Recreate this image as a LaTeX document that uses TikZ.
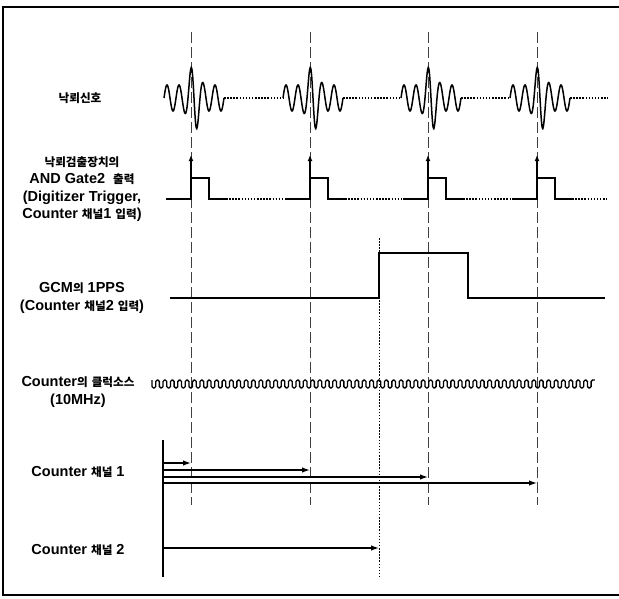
\documentclass[tikz,border=0pt]{standalone}
\usepackage{fontspec}
\setmainfont{Liberation Sans}
\newfontfamily\kofont{Noto Sans CJK KR}[Scale=0.8]
\newcommand\ko[1]{{\kofont #1}}
\usetikzlibrary{arrows.meta}
\begin{document}
\begin{tikzpicture}[x=1pt,y=-1pt,
  lbl/.style={font=\fontsize{14.5}{17.3}\selectfont\bfseries,align=center},
  sig/.style={line width=1.5pt},
  dotln/.style={line width=1.1pt,dash pattern=on 1.5pt off 1.6pt},
  dashln/.style={line width=1pt,black!75,dash pattern=on 11pt off 4pt},
  cnt/.style={line width=1.3pt,-{Latex[length=8pt,width=5.5pt]}}]
\useasboundingbox (0,0) rectangle (619,598);
\draw[line width=2.4pt] (619,7) -- (3,7) -- (3,595) -- (619,595);
\coordinate (t1) at (191,0);
\coordinate (t2) at (310,0);
\coordinate (t3) at (428,0);
\coordinate (t4) at (537,0);
\coordinate (pps) at (379,0);
\coordinate (c0) at (163,0);
\node[lbl] (lightning) at (80,98) {\ko{낙뢰신호}};
\node[lbl] (gate) at (82,189) {\ko{낙뢰검출장치의}\\AND Gate2~~\ko{출력}\\(Digitizer Trigger,\\Counter \ko{채널}1 \ko{입력})};
\node[lbl] (gcm) at (82,298) {GCM\ko{의} 1PPS\\(Counter \ko{채널}2 \ko{입력})};
\node[lbl] (clock) at (78,392) {Counter\ko{의} \ko{클럭소스}\\(10MHz)};
\node[lbl] (ch1) at (78,472) {Counter \ko{채널} 1};
\node[lbl] (ch2) at (78,550) {Counter \ko{채널} 2};
\foreach \s in {t1,t2,t3,t4}
  \draw[dashln] (\s) ++(0,32) -- ++(0,473);
\foreach \s in {191,310,428,537}
  \draw[sig] plot[domain=\s-27:\s+33,samples=120,smooth]
    (\x,{98-(13+22*exp(-((\x-\s-3)/6)*((\x-\s-3)/6)))*cos(30*(\x-\s))});
\foreach \a/\b in {224/283,343/401,461/510,570/608}
  \draw[dotln] (\a,98) -- (\b,98);
\foreach \s/\b in {t1/285,t2/403,t3/512,t4/607}{
  \draw[sig] (\s) ++(-25,199) -- ++(25,0) -- ++(0,-21) -- ++(18,0) -- ++(0,21) -- ++(17,0);
  \draw[dotln] (\s) ++(35,199) -- (\b,199);
  \draw[sig,-{Latex[length=6pt,width=5pt]}] (\s) ++(0,199) -- ++(0,-44);
}
\draw[sig] (170,298) -- (pps |- 0,298) -- (pps |- 0,253) -- (468,253) -- (468,298) -- (605,298);
\draw[dotln,line width=1pt] (pps |- 0,238) -- (pps |- 0,577);
\draw[line width=1.3pt,rounded corners=1.5pt] (152,380)
  \foreach \i in {0,...,59}{ -- ++(0,8) -- ++(3.69,0) -- ++(0,-8) -- ++(3.69,0) };
\draw[line width=2.2pt] (c0 |- 0,440) -- (c0 |- 0,577);
\foreach \s/\y in {t1/463,t2/470,t3/477,t4/483}
  \draw[cnt] (c0 |- 0,\y) -- (\s |- 0,\y);
\draw[cnt] (c0 |- 0,548) -- (pps |- 0,548);
\end{tikzpicture}
\end{document}
